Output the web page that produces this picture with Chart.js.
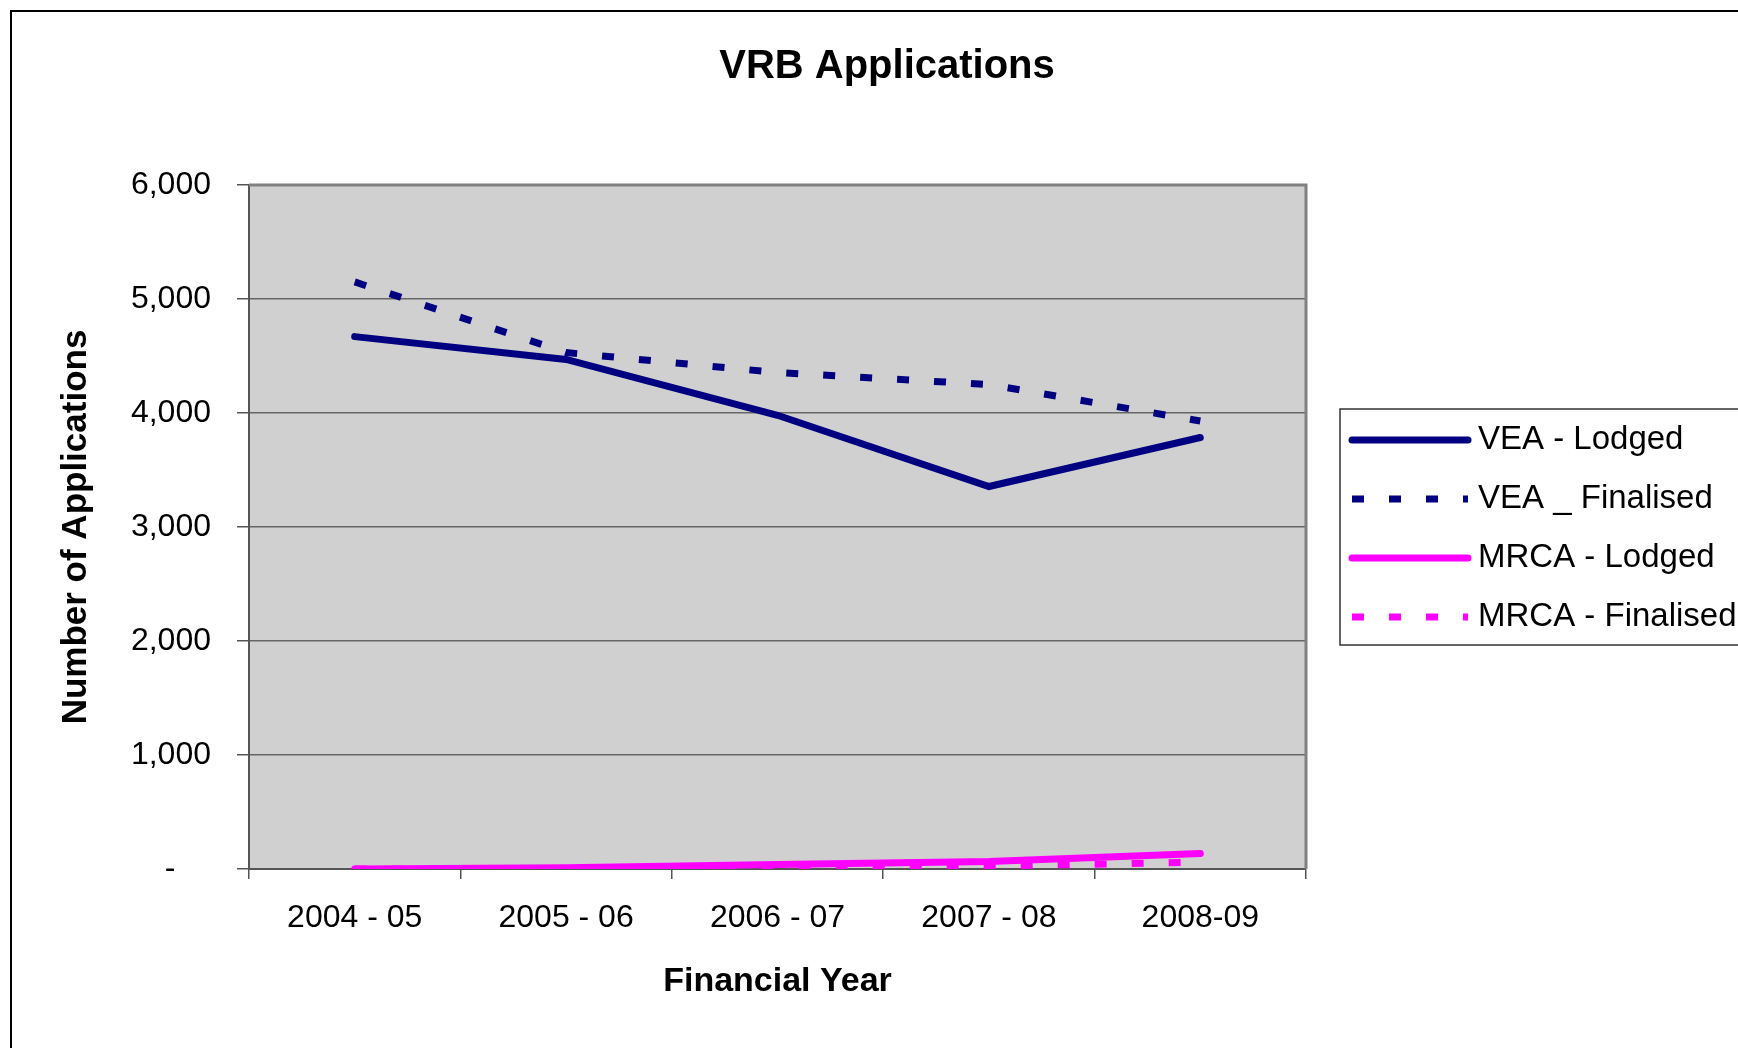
<!DOCTYPE html>
<html>
<head>
<meta charset="utf-8">
<script src="https://cdn.jsdelivr.net/npm/chart.js@4.4.1/dist/chart.umd.min.js"></script>
<style>
  html, body { margin: 0; padding: 0; background: #fff; }
  #wrap { position: relative; width: 1738px; height: 1048px; }
</style>
</head>
<body>
<div id="wrap"><canvas id="chart1"></canvas></div>
<script>
// data
var years = ['2004 - 05', '2005 - 06', '2006 - 07', '2007 - 08', '2008-09'];
var veaLodged = [4670, 4470, 3980, 3355, 3785];
var veaFinalised = [5150, 4530, 4355, 4250, 3930];
var mrcaLodged = [0, 10, 40, 65, 135];
var mrcaFinalised = [0, 0, 0, 25, 60];
var seriesNames = ['VEA - Lodged', 'VEA _ Finalised', 'MRCA - Lodged', 'MRCA - Finalised'];

var FONT = '"Liberation Sans", Arial, sans-serif';
Chart.defaults.font.family = FONT;
Chart.defaults.color = '#000';

// frame, plot background, title and boxed legend
var framePlugin = {
  id: 'frame',
  beforeDraw: function(chart) {
    var ctx = chart.ctx, a = chart.chartArea;
    ctx.save();
    ctx.fillStyle = '#fff';
    ctx.fillRect(0, 0, chart.width, chart.height);
    ctx.fillStyle = '#d0d0d0';
    ctx.fillRect(a.left, a.top, a.right - a.left, a.bottom - a.top);
    ctx.strokeStyle = '#000';
    ctx.lineWidth = 2;
    ctx.beginPath();
    ctx.moveTo(11, chart.height);
    ctx.lineTo(11, 11);
    ctx.lineTo(chart.width, 11);
    ctx.stroke();
    ctx.restore();
  },
  afterDraw: function(chart) {
    var ctx = chart.ctx, a = chart.chartArea;
    ctx.save();
    // plot border top / right
    ctx.strokeStyle = '#808080';
    ctx.lineWidth = 3;
    ctx.beginPath();
    ctx.moveTo(a.left, a.top);
    ctx.lineTo(a.right, a.top);
    ctx.lineTo(a.right, a.bottom);
    ctx.stroke();

    // title
    ctx.fillStyle = '#000';
    ctx.font = 'bold 40px ' + FONT;
    ctx.textAlign = 'center';
    ctx.textBaseline = 'middle';
    ctx.fillText('VRB Applications', 887, 67);

    // legend
    ctx.strokeStyle = '#333';
    ctx.lineWidth = 1.5;
    ctx.strokeRect(1340, 409, 420, 236);
    ctx.font = '33px ' + FONT;
    ctx.textAlign = 'left';
    chart.data.datasets.forEach(function(ds, i) {
      var y = 440 + i * 59;
      ctx.strokeStyle = ds.borderColor;
      ctx.lineWidth = 7;
      ctx.lineCap = ds.borderDash.length ? 'butt' : 'round';
      ctx.setLineDash(ds.borderDash);
      ctx.beginPath();
      ctx.moveTo(1352, y);
      ctx.lineTo(1468, y);
      ctx.stroke();
      ctx.setLineDash([]);
      ctx.fillStyle = '#000';
      ctx.fillText(ds.label, 1478, y);
    });
    ctx.restore();
  }
};

function makeSet(label, data, color, dashed, order) {
  return {
    label: label,
    data: data,
    borderColor: color,
    backgroundColor: color,
    borderWidth: 7,
    borderDash: dashed ? [12, 25] : [],
    borderCapStyle: dashed ? 'butt' : 'round',
    pointRadius: 0,
    tension: 0,
    fill: false,
    order: order
  };
}

new Chart('chart1', {
  type: 'line',
  data: {
    labels: years,
    datasets: [
      makeSet(seriesNames[0], veaLodged, '#000080', false, 4),
      makeSet(seriesNames[1], veaFinalised, '#000080', true, 3),
      makeSet(seriesNames[2], mrcaLodged, '#ff00ff', false, 2),
      makeSet(seriesNames[3], mrcaFinalised, '#ff00ff', true, 1)
    ]
  },
  options: {
    responsive: true,
    maintainAspectRatio: false,
    animation: false,
    layout: { padding: { top: 185, right: 432, left: 0, bottom: 0 } },
    plugins: {
      legend: { display: false },
      title: { display: false },
      tooltip: { enabled: false }
    },
    scales: {
      x: {
        offset: true,
        afterFit: function(s) { s.height = 1048 - 869; },
        ticks: { font: { size: 32 }, color: '#000', padding: 20, maxRotation: 0 },
        grid: { offset: true, drawOnChartArea: false, tickLength: 10, color: '#555', lineWidth: 1.5 },
        border: { color: '#555', width: 2 },
        title: {
          display: true, text: 'Financial Year', color: '#000',
          font: { size: 34, weight: 'bold' }, padding: { bottom: 46, top: 0 }
        }
      },
      y: {
        min: 0,
        max: 6000,
        afterFit: function(s) { s.width = 249; },
        ticks: {
          stepSize: 1000,
          font: { size: 32 },
          color: '#000',
          padding: 26,
          callback: function(v) { return v === 0 ? '-    ' : v.toLocaleString('en-US'); }
        },
        grid: { color: '#666', lineWidth: 1.5, tickLength: 12, tickColor: '#555' },
        border: { color: '#555', width: 2 },
        title: {
          display: true, text: 'Number of Applications', color: '#000',
          font: { size: 35, weight: 'bold' }, padding: { top: 55, bottom: 0 }
        }
      }
    }
  },
  plugins: [framePlugin]
});
</script>
</body>
</html>
